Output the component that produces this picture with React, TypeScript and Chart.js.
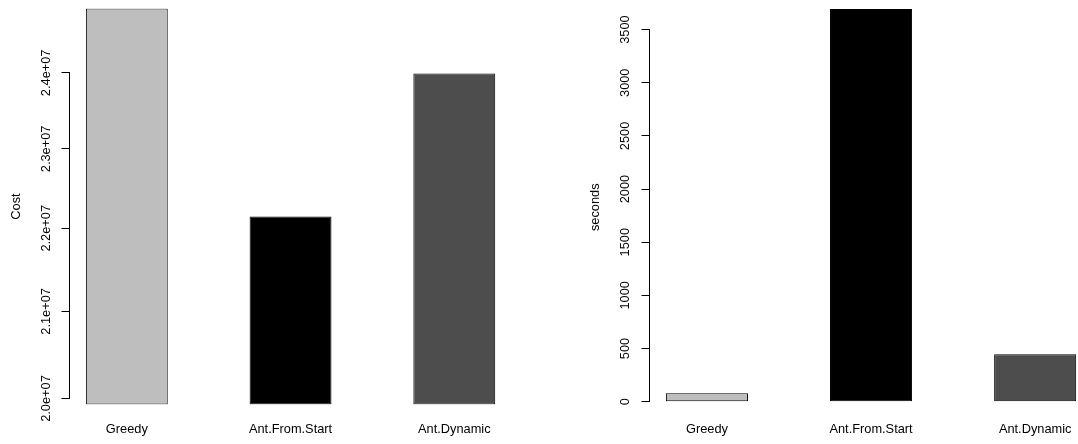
import { useEffect, useRef } from "react";
import { Chart, registerables } from "chart.js";

Chart.register(...registerables);

// ---- data ----
const categories = ["Greedy", "Ant.From.Start", "Ant.Dynamic"];
const costValues = [24880000, 22147000, 23990000];
const timeValues = [79, 3694, 445];
const barColors = ["#BEBEBE", "#000000", "#4D4D4D"];

const costTickValues = [2.0e7, 2.1e7, 2.2e7, 2.3e7, 2.4e7];
const costTickLabels = ["2.0e+07", "2.1e+07", "2.2e+07", "2.3e+07", "2.4e+07"];
const timeTickValues = [0, 500, 1000, 1500, 2000, 2500, 3000, 3500];
const timeTickLabels = ["0", "500", "1000", "1500", "2000", "2500", "3000", "3500"];

const costTitle = "Cost";
const timeTitle = "seconds";

// ---- styling ----
const FONT = '"Liberation Sans", Arial, Helvetica, sans-serif';
const FS = 12.8;

// R barplot geometry (width = 1, space = 1), x range padded by 4%
const barCenters = categories.map((_, i) => 1.5 + 2 * i);
const xLo = 1;
const xHi = 2 * categories.length;
const xPad = 0.04 * (xHi - xLo);

const axisLinePlugin = {
  id: "rAxisLine",
  afterDraw(chart: any) {
    const s = chart.scales.y;
    const t = s.ticks;
    if (!t || !t.length) return;
    const ctx = chart.ctx;
    const al = (p: number) => Math.round(p - 0.5) + 0.5;
    const x = al(s.right);
    const y1 = al(s.getPixelForValue(t[0].value));
    const y2 = al(s.getPixelForValue(t[t.length - 1].value));
    ctx.save();
    ctx.strokeStyle = "#000";
    ctx.lineWidth = 1;
    ctx.beginPath();
    ctx.moveTo(x, y1 + 0.5);
    ctx.lineTo(x, y2 - 0.5);
    ctx.stroke();
    ctx.restore();
  },
};

type PanelOpts = {
  values: number[];
  yType: "linear" | "logarithmic";
  yMin: number;
  yMax: number;
  tickValues: number[];
  tickLabels: string[];
  title: string;
  axisWidth: number;
  titlePad: number;
  tickPad: number;
  xAxisHeight: number;
  xLabelPad: number;
  padRight: number;
};

function makeConfig(o: PanelOpts): any {
  return {
    type: "bar",
    data: {
      datasets: [
        {
          data: o.values.map((v, i) => ({ x: barCenters[i], y: v })),
          backgroundColor: barColors,
          borderColor: "#000000",
          borderWidth: 1,
          borderSkipped: false,
          categoryPercentage: 1,
          barPercentage: 0.5,
        },
      ],
    },
    options: {
      responsive: false,
      animation: false,
      events: [],
      layout: { padding: { top: 8.5, left: 0, right: o.padRight, bottom: 0 } },
      plugins: { legend: { display: false }, tooltip: { enabled: false } },
      scales: {
        x: {
          type: "linear",
          offset: false,
          min: xLo - xPad,
          max: xHi + xPad,
          grid: { display: false },
          border: { display: false },
          afterBuildTicks: (axis: any) => {
            axis.ticks = barCenters.map((v) => ({ value: v }));
          },
          afterFit: (axis: any) => {
            axis.height = o.xAxisHeight;
          },
          ticks: {
            autoSkip: false,
            maxRotation: 0,
            minRotation: 0,
            padding: o.xLabelPad,
            color: "#000",
            font: { family: FONT, size: FS },
            callback: (_v: any, i: number) => categories[i],
          },
        },
        y: {
          type: o.yType,
          bounds: "data",
          min: o.yMin,
          max: o.yMax,
          beginAtZero: false,
          grid: {
            display: true,
            drawOnChartArea: false,
            drawTicks: true,
            tickLength: 8,
            color: "#000",
            lineWidth: 1,
          },
          border: { display: false },
          afterBuildTicks: (axis: any) => {
            axis.ticks = o.tickValues.map((v) => ({ value: v }));
          },
          afterFit: (axis: any) => {
            axis.width = o.axisWidth;
          },
          ticks: {
            autoSkip: false,
            minRotation: 90,
            maxRotation: 90,
            crossAlign: "center",
            padding: o.tickPad,
            color: "#000",
            font: { family: FONT, size: FS },
            callback: (_v: any, i: number) => o.tickLabels[i],
          },
          title: {
            display: true,
            text: o.title,
            color: "#000",
            font: { family: FONT, size: FS },
            padding: { top: o.titlePad, bottom: 0 },
          },
        },
      },
    },
    plugins: [axisLinePlugin],
  };
}

export default function App() {
  const leftRef = useRef<HTMLCanvasElement | null>(null);
  const rightRef = useRef<HTMLCanvasElement | null>(null);

  useEffect(() => {
    const costMin = 0.9 * Math.min(...costValues);
    const costMax = Math.max(...costValues);
    const timeMax = Math.max(...timeValues);
    const timeMin = -0.01 * timeMax;

    const left = new Chart(
      leftRef.current as HTMLCanvasElement,
      makeConfig({
        values: costValues,
        yType: "logarithmic",
        yMin: costMin,
        yMax: costMax,
        tickValues: costTickValues,
        tickLabels: costTickLabels,
        title: costTitle,
        axisWidth: 69.5,
        titlePad: 9,
        tickPad: -7.8,
        xAxisHeight: 39.4,
        xLabelPad: 9,
        padRight: 27.4,
      })
    );
    const right = new Chart(
      rightRef.current as HTMLCanvasElement,
      makeConfig({
        values: timeValues,
        yType: "linear",
        yMin: timeMin,
        yMax: timeMax,
        tickValues: timeTickValues,
        tickLabels: timeTickLabels,
        title: timeTitle,
        axisWidth: 110.5,
        titlePad: 49,
        tickPad: 1.3,
        xAxisHeight: 38.4,
        xLabelPad: 8,
        padRight: 6.4,
      })
    );
    return () => {
      left.destroy();
      right.destroy();
    };
  }, []);

  return (
    <div
      style={{
        position: "absolute",
        left: 0,
        top: 0,
        width: 1078,
        height: 444,
        overflow: "hidden",
        background: "#ffffff",
      }}
    >
      <canvas
        ref={leftRef}
        width={539}
        height={444}
        style={{ position: "absolute", left: 0, top: 0, width: 539, height: 444 }}
      />
      <canvas
        ref={rightRef}
        width={560}
        height={444}
        style={{ position: "absolute", left: 539, top: 0, width: 560, height: 444 }}
      />
    </div>
  );
}
